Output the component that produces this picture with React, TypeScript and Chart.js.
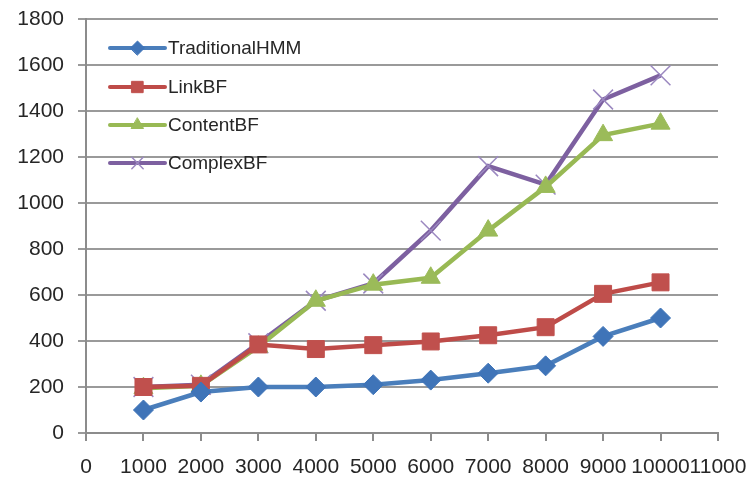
import React, { useEffect, useRef } from "react";
import { Chart, registerables } from "chart.js";
import { drawPoint } from "chart.js/helpers";

Chart.register(...registerables);

const xValues = [1000, 2000, 3000, 4000, 5000, 6000, 7000, 8000, 9000, 10000];
const traditionalHMM = [100, 178, 200, 200, 210, 230, 260, 292, 420, 500];
const linkBF = [200, 205, 385, 365, 382, 398, 425, 460, 605, 655];
const contentBF = [195, 205, 375, 575, 645, 675, 880, 1070, 1295, 1345];
const complexBF = [200, 210, 390, 575, 650, 880, 1160, 1080, 1450, 1555];
const seriesNames = ["TraditionalHMM", "LinkBF", "ContentBF", "ComplexBF"];

const lineColors = ["#4A7EBB", "#BE4B48", "#98B954", "#7D60A0"];
const markerColors = ["#3F74B8", "#C0504D", "#9BBB59", "#9B88C0"];
const markerStyles = ["rectRot", "rect", "triangle", "crossRot"];
const markerRadius = [10, 12, 11, 14];
const legendRadius = [7, 8, 7, 8];

const FONT = "'Liberation Sans', Arial, sans-serif";

const insideLegend = {
  id: "insideLegend",
  afterDraw(chart: any) {
    const ctx = chart.ctx;
    const x0 = 110;
    const x1 = 165;
    const ys = [48, 87, 125, 163];
    ctx.save();
    seriesNames.forEach((name, i) => {
      const y = ys[i];
      ctx.strokeStyle = lineColors[i];
      ctx.lineWidth = 4;
      ctx.lineCap = "round";
      ctx.beginPath();
      ctx.moveTo(x0, y);
      ctx.lineTo(x1, y);
      ctx.stroke();
      ctx.fillStyle = markerColors[i];
      ctx.strokeStyle = markerColors[i];
      ctx.lineWidth = markerStyles[i] === "crossRot" ? 1.5 : 1;
      drawPoint(ctx, { pointStyle: markerStyles[i], radius: legendRadius[i], borderWidth: 1, rotation: 0 } as any, (x0 + x1) / 2, y);
      ctx.fillStyle = "#262626";
      ctx.font = `19px ${FONT}`;
      ctx.textBaseline = "middle";
      ctx.textAlign = "left";
      ctx.fillText(name, 168, y + 1);
    });
    ctx.restore();
  },
};

export default function App() {
  const ref = useRef<HTMLCanvasElement>(null);
  useEffect(() => {
    document.body.style.margin = "0";
    const series = [traditionalHMM, linkBF, contentBF, complexBF];
    const chart = new Chart(ref.current!, {
      type: "line",
      data: {
        datasets: series.map((vals, i) => ({
          label: seriesNames[i],
          data: xValues.map((x, j) => ({ x, y: vals[j] })),
          borderColor: lineColors[i],
          backgroundColor: markerColors[i],
          pointBorderColor: markerColors[i],
          pointBackgroundColor: markerColors[i],
          pointStyle: markerStyles[i] as any,
          pointRadius: markerRadius[i],
          pointBorderWidth: markerStyles[i] === "crossRot" ? 1.5 : 1,
          borderWidth: 4.5,
          tension: 0,
          fill: false,
        })),
      },
      options: {
        responsive: false,
        animation: false,
        layout: { padding: { top: 19, right: 35, left: 0, bottom: 0 } },
        plugins: { legend: { display: false }, tooltip: { enabled: false } },
        scales: {
          x: {
            type: "linear",
            min: 0,
            max: 11000,
            ticks: {
              stepSize: 1000,
              autoSkip: false,
              maxRotation: 0,
              minRotation: 0,
              color: "#262626",
              font: { size: 21, family: FONT },
              padding: 14,
              callback: (v: any) => String(v),
            },
            grid: { drawOnChartArea: false, drawTicks: true, tickLength: 8, color: "#8c8c8c", lineWidth: 2 },
            border: { color: "#8c8c8c", width: 2 },
            afterFit(scale: any) {
              scale.height = 47;
              scale.paddingLeft = 0;
              scale.paddingRight = 0;
            },
          },
          y: {
            min: 0,
            max: 1800,
            ticks: {
              stepSize: 200,
              color: "#262626",
              font: { size: 21, family: FONT },
              padding: 14,
              callback: (v: any) => String(v),
            },
            grid: { color: "#9a9a9a", lineWidth: 2, tickLength: 8, drawTicks: true },
            border: { color: "#8c8c8c", width: 2 },
            afterFit(scale: any) {
              scale.width = 86;
              scale.paddingTop = 0;
              scale.paddingBottom = 0;
            },
          },
        },
      },
      plugins: [insideLegend],
    });
    return () => chart.destroy();
  }, []);
  return (
    <div style={{ width: 753, height: 480, background: "#fff" }}>
      <canvas ref={ref} width={753} height={480} style={{ display: "block" }} />
    </div>
  );
}
